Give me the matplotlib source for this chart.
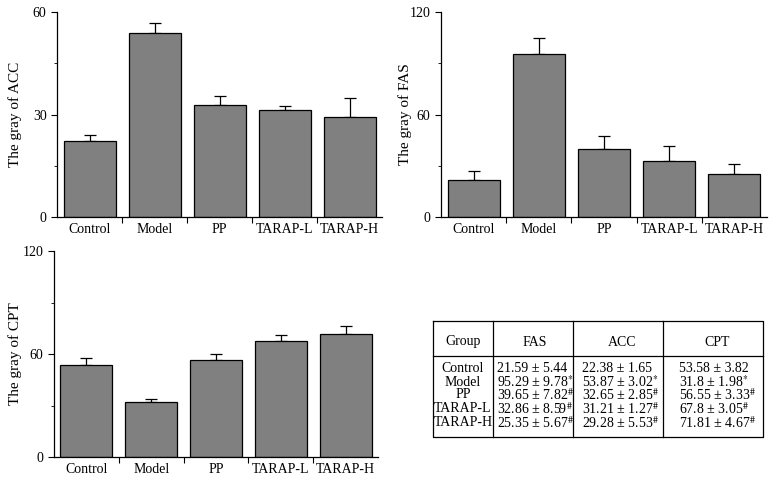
"""Gray values of ACC, FAS and CPT by group, with summary table."""

import matplotlib.pyplot as plt
from matplotlib.ticker import MultipleLocator

plt.rcParams["font.family"] = ["Liberation Serif", "DejaVu Serif"]
plt.rcParams["mathtext.fontset"] = "stix"
plt.rcParams["font.size"] = 10

groups = ["Control", "Model", "PP", "TARAP-L", "TARAP-H"]

fas_mean = [21.59, 95.29, 39.65, 32.86, 25.35]
fas_sd = [5.44, 9.78, 7.82, 8.59, 5.67]
acc_mean = [22.38, 53.87, 32.65, 31.21, 29.28]
acc_sd = [1.65, 3.02, 2.85, 1.27, 5.53]
cpt_mean = [53.58, 31.8, 56.55, 67.8, 71.81]
cpt_sd = [3.82, 1.98, 3.33, 3.05, 4.67]

fas_mark = ["", "*", "#", "#", "#"]
acc_mark = ["", "*", "#", "#", "#"]
cpt_mark = ["", "*", "#", "#", "#"]

BAR_COLOR = "#808080"
FIG_W, FIG_H = 776, 483


def bar_panel(fig, box, means, sds, ymax, ylabel, label_x):
    # box is (left, top, right, bottom) in picture pixels
    left, top, right, bottom = box
    ax = fig.add_axes([left / FIG_W, (FIG_H - bottom) / FIG_H,
                       (right - left) / FIG_W, (bottom - top) / FIG_H])
    x = list(range(len(groups)))
    ax.bar(x, means, width=0.8, color=BAR_COLOR, edgecolor="black",
           linewidth=0.9, zorder=2)
    ax.errorbar(x, means, yerr=[[0] * len(sds), sds], fmt="none",
                ecolor="black", elinewidth=0.9, capsize=4, capthick=0.9,
                zorder=1)
    ax.set_xlim(-0.5, len(groups) - 0.5)
    ax.set_ylim(0, ymax)
    ax.set_yticks([0, ymax / 2, ymax])
    ax.yaxis.set_minor_locator(MultipleLocator(ymax / 4))
    ax.set_yticklabels([f"{int(v)}" for v in (0, ymax / 2, ymax)])
    ax.set_xticks(x)
    ax.set_xticklabels(groups)
    ax.tick_params(axis="x", length=0, pad=4, labelsize=10)
    ax.set_xticks([i + 0.5 for i in x[:-1]], minor=True)
    ax.tick_params(axis="x", which="minor", length=4, width=0.8)
    ax.tick_params(axis="y", which="major", length=4, width=0.8, labelsize=10)
    ax.tick_params(axis="y", which="minor", length=2, width=0.6)
    for side in ("top", "right"):
        ax.spines[side].set_visible(False)
    for side in ("left", "bottom"):
        ax.spines[side].set_linewidth(0.9)
    ax.set_ylabel(ylabel, fontsize=11, va="center")
    ax.yaxis.set_label_coords((label_x - left) / (right - left), 0.5)
    return ax


def cell(mean, sd, mark):
    text = f"{mean:g} ± {sd:.2f}"
    if mark:
        text += "$^{" + mark.replace("#", r"\#") + "}$"
    return text


def table_panel(fig):
    ax = fig.add_axes([0, 0, 1, 1], facecolor="none")
    ax.set_xlim(0, FIG_W)
    ax.set_ylim(FIG_H, 0)
    ax.axis("off")
    left, right, top, bottom = 433, 763, 321, 437
    head = 356
    dividers = [493, 573, 663]
    lw = 0.9
    ax.plot([left, right, right, left, left], [top, top, bottom, bottom, top],
            color="black", lw=lw)
    ax.plot([left, right], [head, head], color="black", lw=lw)
    for xv in dividers:
        ax.plot([xv, xv], [top, bottom], color="black", lw=lw)

    ax.text(463, 342, "Group", ha="center", va="center")
    ax.text(535, 342, "FAS", ha="center", va="center")
    ax.text(622, 342, "ACC", ha="center", va="center")
    ax.text(717, 342, "CPT", ha="center", va="center")

    row_y = [368, 382, 395, 409, 423]
    for i, name in enumerate(groups):
        y = row_y[i]
        ax.text(463, y, name, ha="center", va="center")
        ax.text(497, y, cell(fas_mean[i], fas_sd[i], fas_mark[i]),
                ha="left", va="center")
        ax.text(582, y, cell(acc_mean[i], acc_sd[i], acc_mark[i]),
                ha="left", va="center")
        ax.text(679, y, cell(cpt_mean[i], cpt_sd[i], cpt_mark[i]),
                ha="left", va="center")


def main():
    fig = plt.figure(figsize=(FIG_W / 100, FIG_H / 100), dpi=100)
    bar_panel(fig, (57, 12, 382, 217), acc_mean, acc_sd, 60,
              "The gray of ACC", 15)
    bar_panel(fig, (441, 12, 767, 217), fas_mean, fas_sd, 120,
              "The gray of FAS", 405)
    bar_panel(fig, (54, 251, 378, 457), cpt_mean, cpt_sd, 120,
              "The gray of CPT", 15)
    table_panel(fig)
    fig.savefig("out.png", dpi=100)
    plt.close(fig)


if __name__ == "__main__":
    main()
